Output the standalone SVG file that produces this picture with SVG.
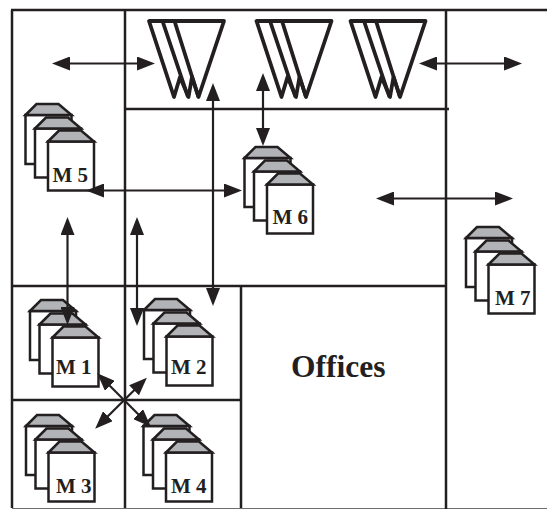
<svg xmlns="http://www.w3.org/2000/svg" xmlns:xlink="http://www.w3.org/1999/xlink" width="547" height="509" viewBox="0 0 547 509">
<style>
.wall{stroke:#231f20;stroke-width:2.500;fill:none}
.base{stroke:#6d6e71;stroke-width:1.200;fill:none}
.sheet{fill:#fff;stroke:#231f20;stroke-width:2.500;stroke-linejoin:miter}
.roof{fill:#b1b3b6;stroke:#231f20;stroke-width:2.500;stroke-linejoin:miter}
.fun{fill:#fff;stroke:#231f20;stroke-width:3.800;stroke-linejoin:round}
.arr{stroke:#231f20;stroke-width:2.200;fill:none;marker-start:url(#h);marker-end:url(#h)}
.lab{font-family:"Liberation Serif","Times New Roman",serif;font-weight:bold;font-size:21px;fill:#231f20}
</style>
<defs>
<marker id="h" markerUnits="userSpaceOnUse" markerWidth="18" markerHeight="14" refX="14" refY="7" orient="auto-start-reverse"><path d="M0 0L18 7L0 14Z" fill="#231f20"/></marker>
<g id="sh"><path class="sheet" d="M0 0H46V49H0Z"/><path class="roof" d="M0 0L11-11H33L46 0Z"/></g>
<g id="st"><use xlink:href="#sh" href="#sh"/><use xlink:href="#sh" href="#sh" x="9.5" y="13.5"/><use xlink:href="#sh" href="#sh" x="22.5" y="26.5"/></g>
<g id="fn"><path class="fun" d="M0 0H75L49.500 76L43 56L39.500 76L31 56L25 76Z"/><path class="fun" style="fill:none" d="M13.500 0L39 76M25.500 0L49.500 76"/></g>
</defs>
<g id="walls">
<path class="base" d="M12 508.500H547"/>
<path class="wall" d="M11 10H547M12 10V508M125 10V508M446 10V509M125 109H449M12 286H446M12 400H241M241 286V508"/>
</g>
<g id="funnel-1"><use xlink:href="#fn" href="#fn" x="149" y="21"/></g>
<g id="funnel-2"><use xlink:href="#fn" href="#fn" x="256.500" y="21"/></g>
<g id="funnel-3"><use xlink:href="#fn" href="#fn" x="350.500" y="21"/></g>
<g id="m5"><use xlink:href="#st" href="#st" x="25.500" y="115"/><text class="lab" x="52.500" y="182">M 5</text></g>
<g id="m6"><use xlink:href="#st" href="#st" x="244.500" y="158"/><text class="lab" x="272.500" y="224">M 6</text></g>
<g id="m7"><use xlink:href="#st" href="#st" x="466" y="238"/><text class="lab" x="495" y="305">M 7</text></g>
<g id="m1"><use xlink:href="#st" href="#st" x="30" y="311"/><text class="lab" x="56" y="374">M 1</text></g>
<g id="m2"><use xlink:href="#st" href="#st" x="144" y="310"/><text class="lab" x="171" y="374">M 2</text></g>
<g id="m3"><use xlink:href="#st" href="#st" x="26" y="426"/><text class="lab" x="56" y="493">M 3</text></g>
<g id="m4"><use xlink:href="#st" href="#st" x="143.500" y="426"/><text class="lab" x="171" y="493">M 4</text></g>
<g id="offices"><text x="291" y="376.500" style="font-family:'Liberation Serif','Times New Roman',serif;font-weight:bold;font-size:31.500px;fill:#231f20">Offices</text></g>
<g id="connectors">
<path class="arr" d="M56 63.500H151"/>
<path class="arr" d="M423 63.500H518"/>
<path class="arr" d="M380 198.500H509"/>
<path class="arr" d="M90 190.500H238"/>
<path class="arr" d="M213 87V302"/>
<path class="arr" d="M263 77V142"/>
<path class="arr" d="M67.500 221V321"/>
<path class="arr" d="M137 221V322"/>
<path class="arr" d="M100 376L148 424"/>
<path class="arr" d="M144 380.500L98 426"/>
</g>
</svg>
